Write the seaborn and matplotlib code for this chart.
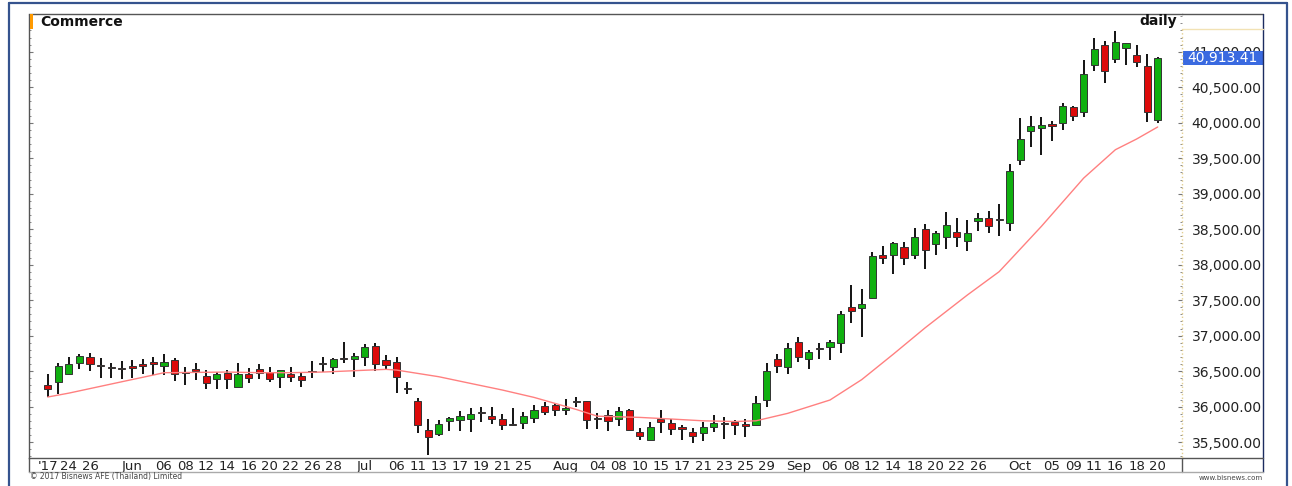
import numpy as np
import pandas as pd
import seaborn as sns
import matplotlib
matplotlib.use('Agg')
import matplotlib.pyplot as plt
from matplotlib.lines import Line2D
from matplotlib.patches import Rectangle
import matplotlib.transforms as mtransforms

# trading days (SET holidays removed)
holidays = ['2017-07-10', '2017-07-28', '2017-08-14', '2017-10-13']
days = pd.bdate_range('2017-05-22', '2017-10-20')
days = days[~days.isin(pd.to_datetime(holidays))]

open_ = [36304, 36342, 36459, 36619, 36703, 36591, 36553, 36548, 36572, 36595,
         36628, 36567, 36661, 36487, 36534, 36431, 36393, 36468, 36276, 36454,
         36525, 36487, 36421, 36454, 36435, 36496, 36619, 36558, 36680, 36675,
         36703, 36853, 36652, 36628, 36262, 36079, 35670, 35618, 35792, 35806,
         35820, 35928, 35867, 35820, 35745, 35764, 35834, 36013, 36022, 35952,
         36079, 36079, 35834, 35886, 35820, 35952, 35646, 35529, 35830, 35764,
         35713, 35637, 35623, 35713, 35764, 35788, 35755, 35743, 36100, 36673,
         36553, 36917, 36666, 36830, 36835, 36901, 37399, 37394, 37530, 38136,
         38141, 38254, 38131, 38498, 38296, 38395, 38456, 38329, 38611, 38652,
         38643, 38582, 39470, 39878, 39930, 39982, 39991, 40217, 40151, 40808,
         41095, 40893, 41048, 40954, 40804, 40033]
high = [36454, 36614, 36703, 36736, 36750, 36680, 36614, 36647, 36656, 36670,
        36703, 36736, 36689, 36558, 36609, 36515, 36487, 36515, 36619, 36539,
        36595, 36553, 36520, 36558, 36492, 36637, 36694, 36684, 36915, 36760,
        36882, 36900, 36731, 36694, 36351, 36126, 35820, 35811, 35858, 35938,
        35975, 35999, 35989, 35895, 35975, 35919, 36018, 36060, 36055, 36107,
        36130, 36085, 35905, 35952, 35989, 35961, 35698, 35778, 35947, 35825,
        35741, 35694, 35788, 35882, 35849, 35811, 35825, 36149, 36619, 36746,
        36891, 36985, 36798, 36891, 36938, 37352, 37714, 37653, 38174, 38268,
        38320, 38324, 38521, 38573, 38474, 38737, 38653, 38629, 38733, 38758,
        38860, 39413, 40062, 40099, 40076, 40020, 40273, 40240, 40879, 41193,
        41151, 41297, 41128, 41090, 40968, 40930]
low = [36130, 36172, 36445, 36525, 36506, 36398, 36398, 36393, 36398, 36459,
       36450, 36445, 36365, 36304, 36370, 36248, 36252, 36243, 36276, 36328,
       36384, 36351, 36257, 36351, 36280, 36398, 36487, 36464, 36610, 36421,
       36567, 36497, 36511, 36187, 36172, 35623, 35313, 35585, 35651, 35661,
       35637, 35787, 35754, 35675, 35731, 35679, 35764, 35877, 35867, 35886,
       35999, 35684, 35684, 35661, 35731, 35661, 35529, 35529, 35628, 35600,
       35529, 35492, 35520, 35642, 35539, 35600, 35576, 35743, 35988, 36478,
       36455, 36633, 36535, 36666, 36657, 36751, 37173, 36976, 37512, 38005,
       37869, 37995, 38085, 37934, 38132, 38221, 38249, 38188, 38479, 38441,
       38411, 38469, 39409, 39653, 39545, 39742, 39897, 40024, 40085, 40733,
       40564, 40837, 40808, 40785, 40005, 40001]
close = [36252, 36576, 36595, 36708, 36605, 36572, 36539, 36529, 36543, 36576,
         36600, 36628, 36454, 36478, 36506, 36337, 36459, 36393, 36459, 36407,
         36473, 36384, 36511, 36417, 36379, 36487, 36595, 36675, 36670, 36713,
         36844, 36605, 36591, 36417, 36248, 35736, 35571, 35750, 35834, 35872,
         35891, 35905, 35825, 35740, 35740, 35862, 35947, 35923, 35947, 35975,
         36065, 35806, 35825, 35797, 35938, 35670, 35585, 35707, 35778, 35684,
         35689, 35586, 35713, 35774, 35755, 35741, 35726, 36046, 36508, 36572,
         36828, 36697, 36774, 36816, 36910, 37310, 37342, 37451, 38117, 38099,
         38310, 38099, 38395, 38207, 38441, 38554, 38395, 38446, 38653, 38550,
         38629, 39324, 39766, 39949, 39963, 39949, 40240, 40095, 40686, 41034,
         40733, 41133, 41118, 40851, 40151, 40913.41]

# moving average, read at a few dates
ma_dates = ['2017-05-22', '2017-05-24', '2017-05-31', '2017-06-05', '2017-06-06',
            '2017-06-09', '2017-06-14', '2017-06-19', '2017-06-22', '2017-06-27',
            '2017-06-30', '2017-07-05', '2017-07-06', '2017-07-13', '2017-07-18',
            '2017-07-21', '2017-07-26', '2017-08-02', '2017-08-04', '2017-08-10',
            '2017-08-16', '2017-08-21', '2017-08-24', '2017-08-28', '2017-08-31',
            '2017-09-06', '2017-09-11', '2017-09-14', '2017-09-19', '2017-09-25',
            '2017-09-28', '2017-09-29', '2017-10-04', '2017-10-10', '2017-10-16',
            '2017-10-18', '2017-10-20']
ma_values = [36135, 36190, 36350, 36445, 36478, 36482, 36487, 36478, 36478, 36487,
             36506, 36525, 36515, 36421, 36327, 36234, 36130, 35960, 35865, 35848,
             35825, 35800, 35790, 35800, 35905, 36093, 36380, 36740, 37110, 37573,
             37901, 38060, 38540, 39220, 39620, 39770, 39940]

tick_dates = ['2017-05-22', '2017-05-24', '2017-05-26', '2017-06-01', '2017-06-06',
              '2017-06-08', '2017-06-12', '2017-06-14', '2017-06-16', '2017-06-20',
              '2017-06-22', '2017-06-26', '2017-06-28', '2017-07-03', '2017-07-06',
              '2017-07-11', '2017-07-13', '2017-07-17', '2017-07-19', '2017-07-21',
              '2017-07-25', '2017-08-01', '2017-08-04', '2017-08-08', '2017-08-10',
              '2017-08-15', '2017-08-17', '2017-08-21', '2017-08-23', '2017-08-25',
              '2017-08-29', '2017-09-01', '2017-09-06', '2017-09-08', '2017-09-12',
              '2017-09-14', '2017-09-18', '2017-09-20', '2017-09-22', '2017-09-26',
              '2017-10-02', '2017-10-05', '2017-10-09', '2017-10-11', '2017-10-16',
              '2017-10-18', '2017-10-20']
tick_text = ["'17", '24', '26', 'Jun', '06', '08', '12', '14', '16', '20', '22', '26',
             '28', 'Jul', '06', '11', '13', '17', '19', '21', '25', 'Aug', '04', '08',
             '10', '15', '17', '21', '23', '25', '29', 'Sep', '06', '08', '12', '14',
             '18', '20', '22', '26', 'Oct', '05', '09', '11', '16', '18', '20']

df = pd.DataFrame({'date': days, 'open': open_, 'high': high, 'low': low, 'close': close})
df['i'] = np.arange(len(df))
pos = {d: i for i, d in enumerate(df['date'])}
ma_i = [pos[pd.Timestamp(d)] for d in ma_dates]
tick_i = [pos[pd.Timestamp(d)] for d in tick_dates]

sns.set_style('white')
plt.rcParams['font.family'] = ['DejaVu Sans']

W, H = 1292, 486
fig = plt.figure(figsize=(W / 100, H / 100), dpi=100)

def fx(px):
    return px / W

def fy(py):
    return 1 - py / H

ax = fig.add_axes([fx(29.3), fy(457.5), fx(1182) - fx(29.3), fy(14.5) - fy(457.5)])
ax.set_xlim(-1.74, 107.3)
ax.set_ylim(35283, 41525)

# candles
up = df['close'] >= df['open']
colors = np.where(up, '#10b010', '#dd0a0a')
body_lo = np.minimum(df['open'], df['close'])
body_h = np.maximum(np.abs(df['close'] - df['open']), 14)
ax.vlines(df['i'], df['low'], df['high'], color='black', lw=1.3, zorder=2)
ax.bar(df['i'], body_h, bottom=body_lo, width=0.68, color=colors,
       edgecolor='#333333', linewidth=0.7, zorder=3)

sns.lineplot(x=ma_i, y=ma_values, color='#ff8080', lw=1, ax=ax, zorder=4)

# axes styling
for s in ['left', 'top', 'bottom']:
    ax.spines[s].set_color('#555555')
    ax.spines[s].set_linewidth(1)
ax.spines['right'].set_visible(False)

ax.set_xticks(tick_i)
ax.set_xticklabels(tick_text)
ax.tick_params(axis='x', direction='in', length=3, pad=1.5, labelsize=9.5,
               colors='#222222')
ax.set_yticks(np.arange(35500, 41001, 500))
ax.set_yticks(np.arange(35300, 41501, 100), minor=True)
ax.yaxis.set_major_formatter(matplotlib.ticker.StrMethodFormatter('{x:,.2f}'))
ax.tick_params(axis='y', which='both', left=True, right=True, labelleft=False,
               labelright=True, direction='in', colors='#777777')
ax.tick_params(axis='y', which='major', length=3, pad=7, labelsize=10,
               labelcolor='#222222')
ax.tick_params(axis='y', which='minor', length=1.5)
ax.set_xlabel('')
ax.set_ylabel('')
ax.grid(False)

# last price tag
tr = mtransforms.blended_transform_factory(ax.transAxes, ax.transData)
ax_w = 1182 - 29.3
last = close[-1]
ax.add_patch(Rectangle((1.0008, last - 7 * 14.09), 80 / ax_w, 14 * 14.09,
                       transform=tr, facecolor='#3a6ae0', edgecolor='none',
                       clip_on=False, zorder=10))
ax.text(1.0008 + 40 / ax_w, last, f'{last:,.2f}', transform=tr, ha='center',
        va='center', color='white', fontsize=10, zorder=11, clip_on=False)

# frames
def fline(x0, y0, x1, y1, color, lw=1, ls='-'):
    fig.add_artist(Line2D([fx(x0), fx(x1)], [fy(y0), fy(y1)], color=color, lw=lw, ls=ls))

fline(8.5, 3.5, 8.5, 486, '#35538e', 1.6)
fline(8.5, 3.5, 1286.5, 3.5, '#35538e', 1.6)
fline(1286.5, 3.5, 1286.5, 486, '#35538e', 1.6)
fline(1182, 14.5, 1263, 14.5, '#555555')
fline(1263, 14.5, 1263, 471.5, '#1c2c60')
fline(1182, 457.5, 1263, 457.5, '#555555')
fline(1182, 457.5, 1182, 471.5, '#555555')
fline(29.3, 457.5, 29.3, 471.5, '#555555')
fline(29.3, 471.5, 1263, 471.5, '#aaaaaa')
fline(1182, 29, 1263, 29, '#f2e2b4')
fline(1182, 29, 1182, 457.5, '#e3cf90', 1, ':')

fig.add_artist(Rectangle((fx(29.5), fy(29)), fx(3), fy(14.5) - fy(29),
                         facecolor='#ff9a00', edgecolor='none'))

fig.text(fx(40), fy(21.5), 'Commerce', fontsize=10, fontweight='bold',
         va='center', ha='left', color='#111111')
fig.text(fx(1177), fy(21.5), 'daily', fontsize=10, fontweight='bold',
         va='center', ha='right', color='#111111')
fig.text(fx(30), fy(476.5), '© 2017 Bisnews AFE (Thailand) Limited', fontsize=5.5,
         va='center', ha='left', color='#444444')
fig.text(fx(1263), fy(478), 'www.bisnews.com', fontsize=5, va='center',
         ha='right', color='#444444')

fig.savefig('out.png', dpi=100)
plt.close()
